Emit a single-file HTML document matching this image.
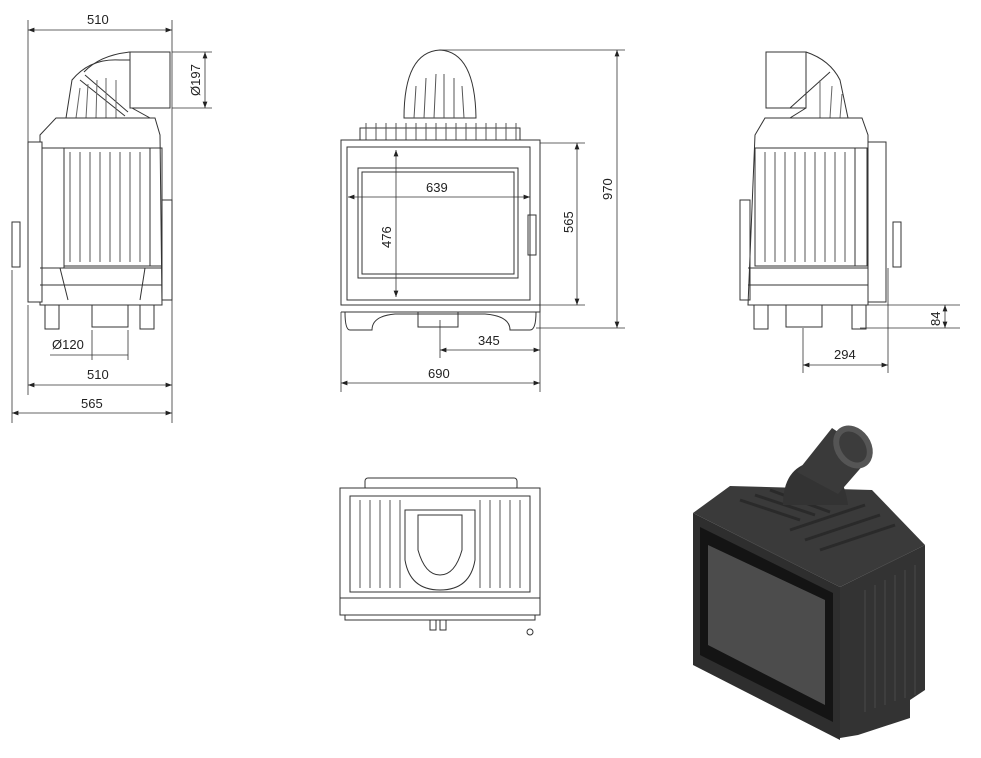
<!DOCTYPE html>
<html><head><meta charset="utf-8"><style>
html,body{margin:0;padding:0;background:#fff;}
svg{display:block}
text{font-family:"Liberation Sans",sans-serif;font-size:13px;fill:#222}
</style></head><body>
<svg width="981" height="758" viewBox="0 0 981 758" xmlns="http://www.w3.org/2000/svg">
<defs>
<marker id="a" markerWidth="8" markerHeight="8" refX="8" refY="4" orient="auto-start-reverse"><path d="M0,1 L8,4 L0,7z" fill="#222"/></marker>
</defs>
<g stroke="#333" fill="none" stroke-width="1">
<!-- LEFT SIDE VIEW -->
<path d="M66,118 L72,80 Q90,58 120,60 L132,60 L132,108 L150,118 Z" fill="#fff"/>
<rect x="130" y="52" width="40" height="56" fill="#fff"/>
<path d="M130,52 Q100,55 84,72"/>
<path d="M85,75 L128,112 M80,80 L125,116" />
<g stroke="#666"><path d="M76,118 L80,88 M86,118 L88,84 M96,118 L97,80 M106,118 L106,78 M116,118 L116,80"/></g>
<path d="M56,118 L155,118 L160,135 L162,305 L40,305 L40,135 Z" fill="#fff"/>
<rect x="28" y="142" width="14" height="160" fill="#fff"/>
<rect x="42" y="148" width="22" height="120"/>
<g stroke="#555"><path d="M70,152 V262 M80,152 V262 M90,152 V262 M100,152 V262 M110,152 V262 M120,152 V262 M130,152 V262 M140,152 V262"/></g>
<rect x="64" y="148" width="86" height="118"/>
<rect x="150" y="148" width="12" height="118"/>
<rect x="162" y="200" width="10" height="100"/>
<rect x="12" y="222" width="8" height="45" fill="#fff"/>
<path d="M40,268 H162 M40,285 H162 M60,268 L68,300 M145,268 L140,300"/>
<rect x="45" y="305" width="14" height="24"/><rect x="140" y="305" width="14" height="24"/>
<rect x="92" y="305" width="36" height="22"/>
<!-- FRONT VIEW -->
<path d="M404,118 Q404,52 440,50 Q475,52 476,118 Z" fill="#fff"/>
<g stroke="#555"><path d="M414,118 L416,86 M424,118 L426,78 M434,118 L436,74 M444,118 L444,74 M454,118 L454,78 M464,118 L462,86"/></g>
<rect x="360" y="128" width="160" height="12"/>
<g stroke="#555"><path d="M366,123 V140 M376,123 V140 M386,123 V140 M396,123 V140 M406,123 V140 M416,123 V140 M426,123 V140 M436,123 V140 M446,123 V140 M456,123 V140 M466,123 V140 M476,123 V140 M486,123 V140 M496,123 V140 M506,123 V140 M516,123 V140"/></g>
<rect x="341" y="140" width="199" height="165" fill="#fff"/>
<rect x="347" y="147" width="183" height="153"/>
<rect x="358" y="168" width="160" height="110"/>
<rect x="362" y="172" width="152" height="102"/>
<rect x="528" y="215" width="8" height="40"/>
<path d="M347,305 H540 V312 H341"/>
<path d="M345,312 Q345,330 350,330 L372,330 Q372,316 395,314 L485,314 Q510,316 510,330 L530,330 Q536,330 536,312"/>
<rect x="418" y="312" width="40" height="15"/>
<!-- RIGHT SIDE VIEW -->
<rect x="766" y="52" width="40" height="56" fill="#fff"/>
<path d="M806,52 Q830,60 840,80 L848,118 L790,118 L806,108"/>
<path d="M790,108 L830,72"/>
<g stroke="#666"><path d="M820,118 L820,80 M830,118 L832,86 M840,118 L842,94"/></g>
<path d="M765,118 L862,118 L868,135 L868,305 L748,305 L755,135 Z" fill="#fff"/>
<rect x="755" y="148" width="100" height="118"/>
<g stroke="#555"><path d="M765,152 V262 M775,152 V262 M785,152 V262 M795,152 V262 M805,152 V262 M815,152 V262 M825,152 V262 M835,152 V262 M845,152 V262"/></g>
<rect x="855" y="148" width="12" height="118"/>
<rect x="868" y="142" width="18" height="160"/>
<rect x="740" y="200" width="10" height="100"/>
<rect x="893" y="222" width="8" height="45"/>
<path d="M748,268 H868 M748,285 H868"/>
<rect x="754" y="305" width="14" height="24"/><rect x="852" y="305" width="14" height="24"/>
<rect x="786" y="305" width="36" height="22"/>
<!-- TOP VIEW -->
<rect x="365" y="478" width="152" height="12" rx="3"/>
<rect x="340" y="488" width="200" height="110" fill="#fff"/>
<rect x="350" y="496" width="180" height="96"/>
<g stroke="#555"><path d="M360,500 V588 M370,500 V588 M380,500 V588 M390,500 V588 M400,500 V588 M480,500 V588 M490,500 V588 M500,500 V588 M510,500 V588 M520,500 V588"/></g>
<path d="M405,510 H475 V560 Q470,590 440,590 Q410,590 405,560 Z"/>
<path d="M418,515 H462 V550 Q455,575 440,575 Q425,575 418,550 Z"/>
<path d="M340,598 V615 H540 V598 M345,615 V620 H535 V615"/>
<rect x="430" y="620" width="6" height="10"/><rect x="440" y="620" width="6" height="10"/>
<circle cx="530" cy="632" r="3"/>
</g>
<!-- 3D RENDER -->
<g>
<!-- top -->
<path d="M693,513 L730,486 L872,490 L925,545 L840,587 Z" fill="#3a3a3a"/>
<g stroke="#2a2a2a" stroke-width="3"><path d="M740,500 L800,520 M755,495 L815,515 M770,490 L830,512 M865,505 L790,530 M880,515 L805,540 M895,525 L820,550"/></g>
<!-- side -->
<path d="M840,587 L925,545 L925,690 L910,700 L910,718 L858,735 L840,738 Z" fill="#333"/>
<g stroke="#4a4a4a"><path d="M865,590 V712 M875,585 V708 M885,580 V705 M895,575 V701 M905,570 V698 M915,565 V695"/></g>
<!-- front -->
<path d="M693,513 L840,587 L840,740 L693,665 Z" fill="#2e2e2e"/>
<path d="M700,527 L833,593 L833,722 L700,655 Z" fill="#141414"/>
<path d="M708,545 L825,600 L825,705 L708,645 Z" fill="#4c4c4c"/>
<!-- pipe & dome -->
<path d="M783,505 Q783,468 812,462 Q842,462 848,505 Z" fill="#333"/>
<path d="M797,472 L832,428 L872,455 L838,494 Z" fill="#3a3a3a"/>
<ellipse cx="853" cy="447" rx="18" ry="23" fill="#555" transform="rotate(-35 853 447)"/>
<ellipse cx="853" cy="447" rx="12" ry="17" fill="#3c3c3c" transform="rotate(-35 853 447)"/>
</g>
<!-- DIMENSIONS -->
<g stroke="#333" stroke-width="0.8" fill="none">
<path d="M28,30 H172" marker-start="url(#a)" marker-end="url(#a)"/>
<path d="M28,20 V142 M172,20 V305"/>
<path d="M205,52 V108" marker-start="url(#a)" marker-end="url(#a)"/>
<path d="M172,52 H212 M172,108 H212"/>
<path d="M50,355 H128" /><path d="M92,330 V360 M128,330 V360"/>
<path d="M28,385 H172" marker-start="url(#a)" marker-end="url(#a)"/>
<path d="M28,305 V395"/>
<path d="M12,413 H172" marker-start="url(#a)" marker-end="url(#a)"/>
<path d="M12,270 V423 M172,305 V423"/>
<path d="M348,197 H530" marker-start="url(#a)" marker-end="url(#a)"/>
<path d="M396,150 V297" marker-start="url(#a)" marker-end="url(#a)"/>
<path d="M577,143 V305" marker-start="url(#a)" marker-end="url(#a)"/>
<path d="M540,143 H585 M540,305 H585"/>
<path d="M617,50 V328" marker-start="url(#a)" marker-end="url(#a)"/>
<path d="M440,50 H625 M536,328 H625"/>
<path d="M440,350 H540" marker-start="url(#a)" marker-end="url(#a)"/>
<path d="M440,320 V358"/>
<path d="M341,383 H540" marker-start="url(#a)" marker-end="url(#a)"/>
<path d="M341,312 V392 M540,312 V392"/>
<path d="M945,305 V328" marker-start="url(#a)" marker-end="url(#a)"/>
<path d="M868,305 H960 M860,328 H960"/>
<path d="M803,365 H888" marker-start="url(#a)" marker-end="url(#a)"/>
<path d="M803,328 V373 M888,268 V373"/>
</g>
<text x="87" y="24">510</text>
<text x="0" y="0" transform="translate(200,96) rotate(-90)">Ø197</text>
<text x="52" y="349">Ø120</text>
<text x="87" y="379">510</text>
<text x="81" y="408">565</text>
<text x="426" y="192">639</text>
<text x="0" y="0" transform="translate(391,248) rotate(-90)">476</text>
<text x="0" y="0" transform="translate(573,233) rotate(-90)">565</text>
<text x="0" y="0" transform="translate(612,200) rotate(-90)">970</text>
<text x="478" y="345">345</text>
<text x="428" y="378">690</text>
<text x="0" y="0" transform="translate(940,326) rotate(-90)">84</text>
<text x="834" y="359">294</text>
</svg>
</body></html>
